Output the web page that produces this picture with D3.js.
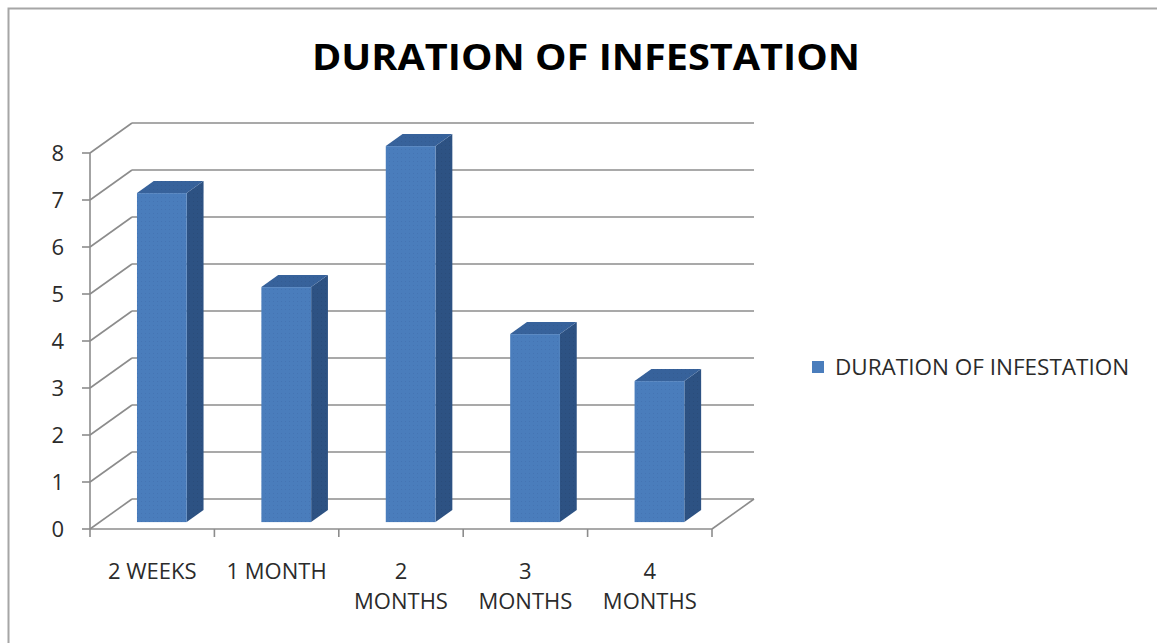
<!DOCTYPE html>
<html>
<head>
<meta charset="utf-8">
<script src="https://cdn.jsdelivr.net/npm/d3@7"></script>
<style>
  body { margin: 0; background: #fff; }
  svg { display: block; }
  text { font-family: "Open Sans", Lato, sans-serif; fill: #2b2b2b; }
</style>
</head>
<body>
<div id="graphicContainer"></div>
<script>

var categories = ["2 WEEKS", "1 MONTH", "2 MONTHS", "3 MONTHS", "4 MONTHS"];
var labelLines = [["2 WEEKS"], ["1 MONTH"], ["2", "MONTHS"], ["3", "MONTHS"], ["4", "MONTHS"]];
var values = [7, 5, 8, 4, 3];
var yTicks = [0, 1, 2, 3, 4, 5, 6, 7, 8];
var seriesName = "DURATION OF INFESTATION";
var chartTitle = "DURATION OF INFESTATION";

var w = 1157, h = 643;

// front plane of the 3d box
var plot = {left: 90, right: 712, top: 153, bottom: 529};
var depth = {dx: 42, dy: -30};          // full depth offset of back wall
var barDepth = [0.23, 0.63];            // bar front/back as fraction of depth

var svg = d3.select("#graphicContainer").append("svg")
    .attr("width", w)
    .attr("height", h);

// dotted texture for bar faces
var defs = svg.append("defs");
function dots(id, base, dot) {
    var p = defs.append("pattern")
        .attr("id", id)
        .attr("width", 4).attr("height", 4)
        .attr("patternUnits", "userSpaceOnUse");
    p.append("rect").attr("width", 4).attr("height", 4).attr("fill", base);
    p.append("rect").attr("x", 1).attr("y", 1).attr("width", 1).attr("height", 1).attr("fill", dot);
}
dots("dotFront", "#4a7dbc", "#4574b3");
dots("dotSide", "#2d5283", "#2a4c7a");
dots("dotTop", "#37629b", "#345c92");

// outer frame (only top/left visible in reference)
svg.append("path")
    .attr("d", "M8.5," + h + "V8.5H" + w)
    .attr("fill", "none")
    .attr("stroke", "#a6a6a6")
    .attr("stroke-width", 2);

var x = d3.scaleBand()
    .domain(categories)
    .range([plot.left, plot.right])
    .paddingInner(0).paddingOuter(0);

var y = d3.scaleLinear()
    .domain([0, 8])
    .range([plot.bottom, plot.top]);

function px(xv, f) { return xv + depth.dx * f; }
function py(yv, f) { return yv + depth.dy * f; }

var gridColor = "#8c8c8c";

// back wall gridlines and left wall diagonals
var grid = svg.append("g").attr("class", "grid");
yTicks.forEach(function(t) {
    grid.append("line")
        .attr("x1", px(plot.left, 1)).attr("x2", px(plot.right, 1))
        .attr("y1", py(y(t), 1)).attr("y2", py(y(t), 1))
        .attr("stroke", gridColor).attr("stroke-width", 1.6);
    grid.append("line")
        .attr("x1", plot.left).attr("y1", y(t))
        .attr("x2", px(plot.left, 1)).attr("y2", py(y(t), 1))
        .attr("stroke", gridColor).attr("stroke-width", 1.6);
});

// floor edges
grid.append("line")
    .attr("x1", plot.right).attr("y1", plot.bottom)
    .attr("x2", px(plot.right, 1)).attr("y2", py(plot.bottom, 1))
    .attr("stroke", gridColor).attr("stroke-width", 1.6);

// y axis
var yAxis = svg.append("g").attr("class", "y axis");
yAxis.append("line")
    .attr("x1", plot.left).attr("x2", plot.left)
    .attr("y1", y(8)).attr("y2", y(0))
    .attr("stroke", gridColor).attr("stroke-width", 1.6);
yTicks.forEach(function(t) {
    yAxis.append("line")
        .attr("x1", plot.left - 8).attr("x2", plot.left)
        .attr("y1", y(t)).attr("y2", y(t))
        .attr("stroke", gridColor).attr("stroke-width", 1.6);
    yAxis.append("text")
        .attr("x", 64).attr("y", y(t) + 8)
        .attr("text-anchor", "end")
        .attr("font-size", 22)
        .text(t);
});

// x axis
var xAxis = svg.append("g").attr("class", "x axis");
xAxis.append("line")
    .attr("x1", plot.left).attr("x2", plot.right)
    .attr("y1", plot.bottom).attr("y2", plot.bottom)
    .attr("stroke", gridColor).attr("stroke-width", 1.6);
var bounds = categories.map(function(c) { return x(c); }).concat([plot.right]);
bounds.forEach(function(b) {
    xAxis.append("line")
        .attr("x1", b).attr("x2", b)
        .attr("y1", plot.bottom).attr("y2", plot.bottom + 8)
        .attr("stroke", gridColor).attr("stroke-width", 1.6);
});
categories.forEach(function(c, i) {
    var t = xAxis.append("text")
        .attr("text-anchor", "middle")
        .attr("font-size", 22);
    labelLines[i].forEach(function(line, j) {
        t.append("tspan")
            .attr("x", x(c) + x.bandwidth() / 2)
            .attr("y", 579 + j * 30)
            .text(line);
    });
});

// 3d bars
var barW = x.bandwidth() * 0.4;
var bars = svg.append("g").attr("class", "bars");
categories.forEach(function(c, i) {
    var f0 = barDepth[0], f1 = barDepth[1];
    var cx = x(c) + x.bandwidth() / 2;
    var xl = px(cx - barW / 2, f0), xr = px(cx + barW / 2, f0);
    var yb = py(y(0), f0), yt = py(y(values[i]), f0);
    var ddx = depth.dx * (f1 - f0), ddy = depth.dy * (f1 - f0);
    var g = bars.append("g");
    // side
    g.append("path")
        .attr("d", "M" + xr + "," + yt + "L" + (xr + ddx) + "," + (yt + ddy) +
            "L" + (xr + ddx) + "," + (yb + ddy) + "L" + xr + "," + yb + "Z")
        .attr("fill", "url(#dotSide)");
    // top
    g.append("path")
        .attr("d", "M" + xl + "," + yt + "L" + (xl + ddx) + "," + (yt + ddy) +
            "L" + (xr + ddx) + "," + (yt + ddy) + "L" + xr + "," + yt + "Z")
        .attr("fill", "url(#dotTop)");
    // front
    g.append("rect")
        .attr("x", xl).attr("y", yt)
        .attr("width", xr - xl).attr("height", yb - yt)
        .attr("fill", "url(#dotFront)");
});

// title
svg.append("text")
    .attr("x", 586).attr("y", 70)
    .attr("text-anchor", "middle")
    .attr("font-size", 36)
    .attr("font-weight", "bold")
    .attr("textLength", 548)
    .attr("lengthAdjust", "spacingAndGlyphs")
    .style("fill", "#000")
    .text(chartTitle);

// legend
var legend = svg.append("g").attr("class", "legend");
legend.append("rect")
    .attr("x", 812).attr("y", 361)
    .attr("width", 12).attr("height", 12)
    .attr("fill", "#4a7dbc");
legend.append("text")
    .attr("x", 835).attr("y", 375)
    .attr("font-size", 22.5)
    .text(seriesName);

</script>
</body>
</html>
